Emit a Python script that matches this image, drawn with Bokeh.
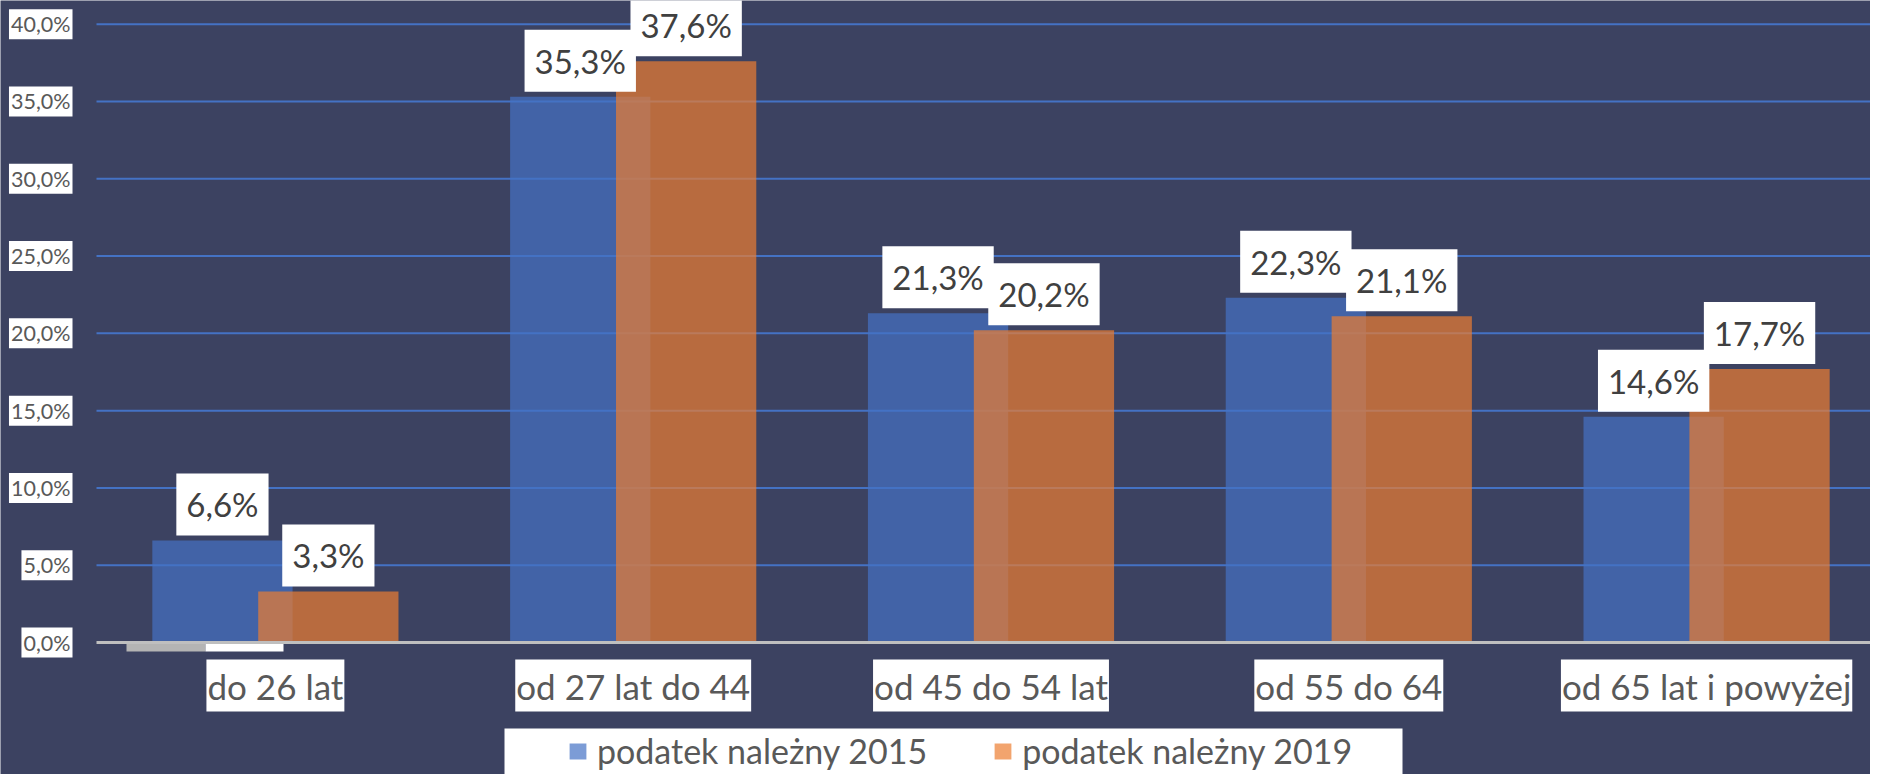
from bokeh.plotting import figure
from bokeh.models import ColumnDataSource, Range1d, Legend, LegendItem, BoxAnnotation
from bokeh.transform import dodge
from bokeh.core.properties import value
from bokeh.embed import file_html
from bokeh.resources import INLINE

# ---- data ----
categories = ["do 26 lat", "od 27 lat do 44", "od 45 do 54 lat", "od 55 do 64", "od 65 lat i powyżej"]
values_2015 = [6.6, 35.3, 21.3, 22.3, 14.6]
values_2019 = [3.3, 37.6, 20.2, 21.1, 17.7]
series_names = ["podatek należny 2015", "podatek należny 2019"]
y_ticks = [0, 5, 10, 15, 20, 25, 30, 35, 40]
y_tick_labels = ["0,0%", "5,0%", "10,0%", "15,0%", "20,0%", "25,0%", "30,0%", "35,0%", "40,0%"]

# ---- style / layout ----
BG = "#3c4261"
BLUE = "#4472C4"
ORANGE = "#ED7D31"
FONT = "Lato"
LABEL_GRAY = "#595959"
W_PX, H_PX = 1870, 774
PLOT_LEFT_PX = 96        # left edge of the category area
BASE_PX = 642            # 0 % line
CAT_PX = 357.8           # width of one category
PCT_PX = 15.458          # pixels per percent


def dx(px):
    return -0.5 + (px - PLOT_LEFT_PX) / CAT_PX


def dy(py):
    return (BASE_PX - py) / PCT_PX


def pct(v):
    return f"{v:.1f}%".replace(".", ",")


src = ColumnDataSource(dict(
    x=list(range(len(categories))),
    cat=categories,
    v15=values_2015,
    v19=values_2019,
    l15=[pct(v) for v in values_2015],
    l19=[pct(v) for v in values_2019],
))
grid_src = ColumnDataSource(dict(y=y_ticks[1:], lab=y_tick_labels[1:]))
tick_src = ColumnDataSource(dict(y=y_ticks, lab=y_tick_labels))

X_END = dx(W_PX)
p = figure(width=W_PX, height=H_PX,
           x_range=Range1d(dx(0), X_END), y_range=Range1d(dy(H_PX), dy(0)),
           output_backend="svg", toolbar_location=None,
           x_axis_location=None, y_axis_location=None,
           min_border=0, background_fill_color=BG, border_fill_color=BG,
           outline_line_color=None)
p.grid.visible = False

# horizontal grid lines
p.segment(x0=-0.5, x1=X_END, y0="y", y1="y", source=grid_src,
          line_color=BLUE, line_width=2)

OFF = 0.148
W = 0.392
r15 = p.vbar(x=dodge("x", -OFF), top="v15", bottom=0, width=W, source=src,
             fill_color=BLUE, fill_alpha=0.7, line_color=None)
r19 = p.vbar(x=dodge("x", OFF), top="v19", bottom=0, width=W, source=src,
             fill_color=ORANGE, fill_alpha=0.7, line_color=None)

# base line (x axis line)
p.segment(x0=-0.5, x1=X_END, y0=0, y1=0, line_color="#bfbfbf", line_width=3)


def boxed(glyph, pad, fallback):
    gp = glyph.properties()
    if "background_fill_color" in gp:
        glyph.background_fill_color = "white"
        glyph.background_fill_alpha = 1.0
    if "padding" in gp:
        try:
            glyph.padding = pad
        except Exception:
            glyph.padding = fallback


# value labels
for off, col, lab in ((-OFF, "v15", "l15"), (OFF, "v19", "l19")):
    t = p.text(x=dodge("x", off), y=col, text=lab, source=src,
               text_align="center", text_baseline="middle", y_offset=-36,
               text_font=value(FONT), text_font_size="33px", text_color="#404040")
    boxed(t.glyph, (10, 10, 11, 11), 10)

# y tick labels
t = p.text(x=-0.5, y="y", text="lab", source=tick_src, x_offset=-24,
           text_align="right", text_baseline="middle",
           text_font=value(FONT), text_font_size="21.5px", text_color=LABEL_GRAY)
boxed(t.glyph, 2, 2)

# category labels
t = p.text(x="x", y=0, text="cat", source=src, y_offset=43,
           text_align="center", text_baseline="middle",
           text_font=value(FONT), text_font_size="35px", text_color=LABEL_GRAY)
boxed(t.glyph, (1, 1, 5, 5), 3)

# small artefact boxes under the first category
p.add_layout(BoxAnnotation(left=dx(126), right=dx(205), top=dy(643.5), bottom=dy(651),
                           fill_color="#b4b4b4", fill_alpha=1, line_color=None))
p.add_layout(BoxAnnotation(left=dx(205), right=dx(283), top=dy(643.5), bottom=dy(651),
                           fill_color="white", fill_alpha=1, line_color=None))
# legend background
p.add_layout(BoxAnnotation(left=dx(504), right=dx(1402), top=dy(728), bottom=dy(H_PX + 20),
                           fill_color="white", fill_alpha=1, line_color=None))

legend = Legend(items=[LegendItem(label=series_names[0], renderers=[r15]),
                       LegendItem(label=series_names[1], renderers=[r19])],
                orientation="horizontal", location=(567, 3),
                padding=0, spacing=65, margin=0,
                glyph_width=21, glyph_height=20, label_standoff=9, label_height=20,
                label_text_font=FONT, label_text_font_size="34px",
                label_text_color=LABEL_GRAY,
                background_fill_alpha=0, border_line_color=None)
p.add_layout(legend, "center")

open("out.html", "w").write(file_html(p, INLINE))
